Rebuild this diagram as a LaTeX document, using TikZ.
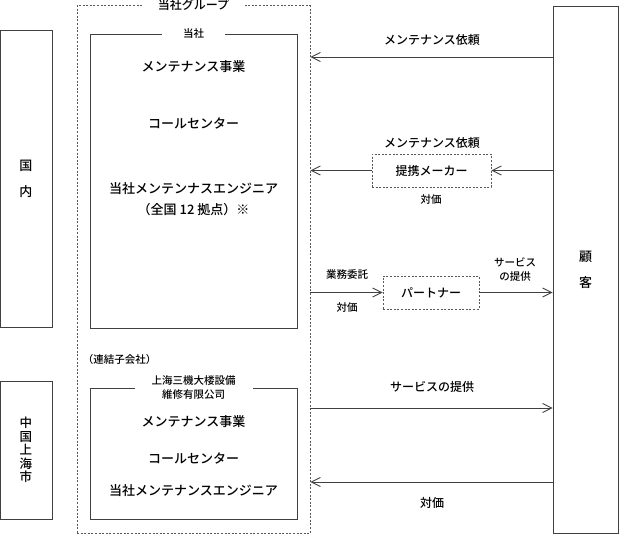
\documentclass[tikz,border=0pt]{standalone}
\usepackage{fontspec}
\setmainfont{Noto Sans CJK JP}[UprightFont=* Medium]
\usetikzlibrary{arrows.meta}
\tikzset{%
  >={Straight Barb[length=9pt,width=9pt]}, % open arrow heads
  line/.style={draw=black!75,line width=0.9pt},%
  box/.style={draw=black!75,line width=0.9pt,inner sep=0pt,align=center},%
  dotbox/.style={draw=black!65,line width=0.9pt,dash pattern=on 2pt off 1.6pt,
    inner sep=0pt,align=center},%
  title/.style={fill=white,inner ysep=1pt,align=center},%
  big/.style={font=\fontsize{13}{15}\selectfont},%
  mid/.style={font=\fontsize{12}{14}\selectfont},%
  small/.style={font=\fontsize{10.5}{13.5}\selectfont}%
}

\begin{document}
\begin{tikzpicture}[x=1pt,y=-1pt]
\useasboundingbox (0,0) rectangle (620,535);

%regions and customer
\node[box,font=\fontsize{13}{26}\selectfont,minimum width=52pt,minimum height=297pt]
  (kokunai) at (26,178.5) {国\\内};
\node[box,font=\fontsize{12.5}{13.5}\selectfont,minimum width=52pt,minimum height=138pt]
  (shanghai) at (26,450) {中\\国\\上\\海\\市};
\node[box,font=\fontsize{13}{26}\selectfont,minimum width=65pt,minimum height=527pt]
  (kokyaku) at (585.5,269.5) {顧\\客};

%group
\node[dotbox,minimum width=233pt,minimum height=528pt] (group) at (193.5,269.5) {};
\node[title,mid,inner xsep=15pt] (groupT) at (group.north) {当社グループ};

%company
\node[box,minimum width=207pt,minimum height=294pt] (tosha) at (193.5,181) {};
\node[title,small,inner xsep=21pt] (toshaT) at (tosha.north) {当社};
\node[big] (tJigyo) at (193.5,67) {メンテナンス事業};
\node[big] (tCall) at (193.5,123) {コールセンター};
\node[big] (tEng) at (193.5,189) {当社メンテンナスエンジニア};
\node[big] (tKyoten) at (193.5,210) {（全国 12 拠点）※};

%subsidiary
\node[small] (renketsu) at (119.5,360) {（連結子会社）};
\node[box,minimum width=207pt,minimum height=131pt] (sub) at (193.5,453.5) {};
\node[title,small,inner xsep=17pt] (subT) at (sub.north) {上海三機大楼設備\\維修有限公司};
\node[big] (sJigyo) at (193.5,422) {メンテナンス事業};
\node[big] (sCall) at (193.5,458) {コールセンター};
\node[big] (sEng) at (193.5,491) {当社メンテナンスエンジニア};

%partners
\node[dotbox,mid,minimum width=119pt,minimum height=33pt] (maker) at (431.5,170.5) {提携メーカー};
\node[dotbox,mid,minimum width=96pt,minimum height=33pt] (partner) at (431,292.5) {パートナー};

%flows
\draw[line,->] (kokyaku.west |- 0,57) -- (group.east |- 0,57);
\draw[line,->] (kokyaku.west |- maker.east) -- (maker.east);
\draw[line,->] (maker.west) -- (group.east |- maker.west);
\draw[line,->] (group.east |- partner.west) -- (partner.west);
\draw[line,->] (partner.east) -- (kokyaku.west |- partner.east);
\draw[line,->] (group.east |- 0,408) -- (kokyaku.west |- 0,408);
\draw[line,->] (kokyaku.west |- 0,482) -- (group.east |- 0,482);

%labels
\node[mid] (lReq) at (432,40) {メンテナンス依頼};
\node[mid] (lReqM) at (432,143) {メンテナンス依頼};
\node[small] (lPayM) at (431,200) {対価};
\node[small] (lItaku) at (347,275) {業務委託};
\node[small] (lPayP) at (347,308) {対価};
\node[small,align=center] (lSvcP) at (515,269.5) {サービス\\の提供};
\node[mid] (lSvc) at (432,387) {サービスの提供};
\node[mid] (lPay) at (432,503) {対価};

\end{tikzpicture}
\end{document}
